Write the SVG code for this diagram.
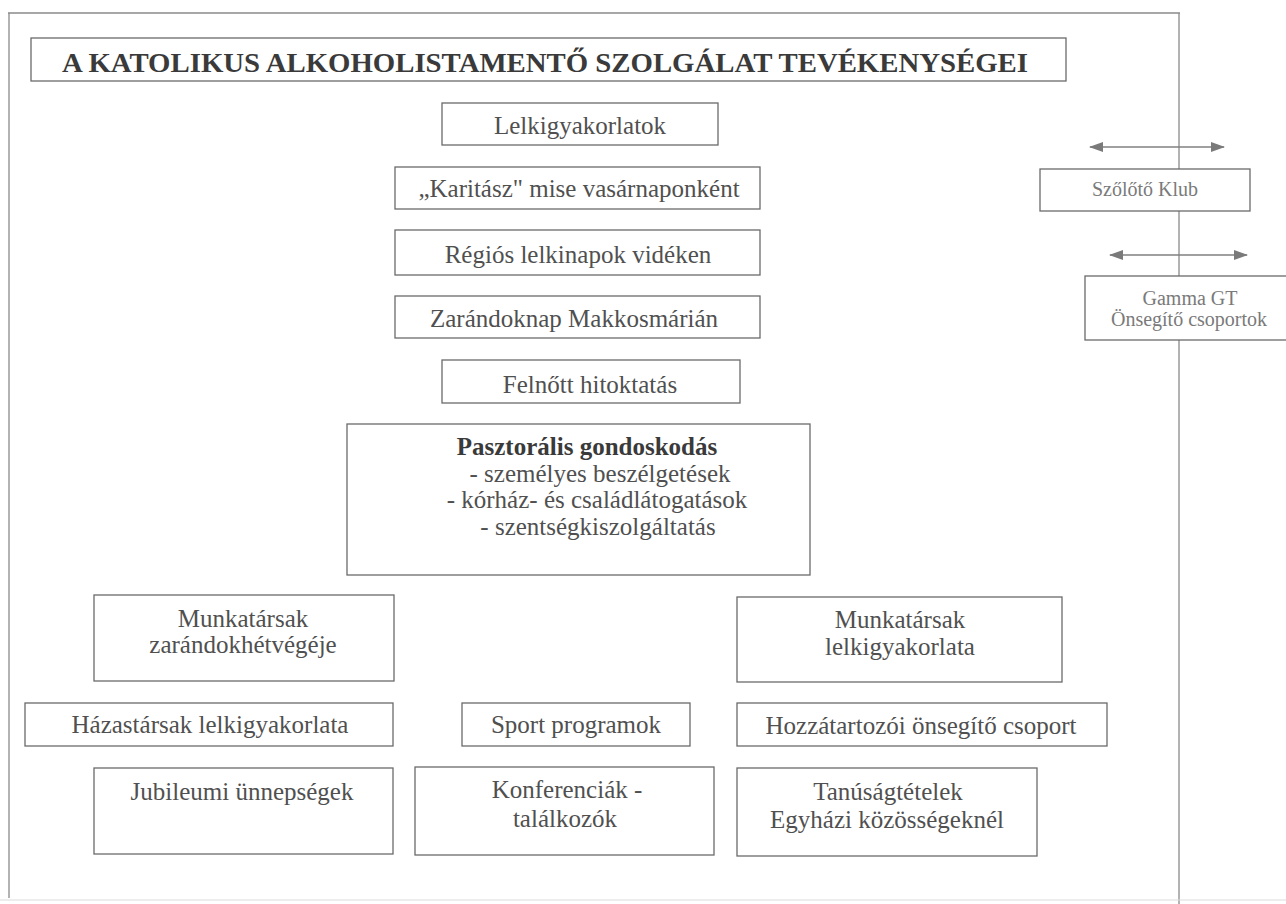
<svg xmlns="http://www.w3.org/2000/svg" width="1286" height="904" viewBox="0 0 1286 904">
<style>
  .bx{fill:#fff;stroke:#6a6a6a;stroke-width:1.3}
  .t{font-family:"Liberation Serif","Times New Roman",serif;font-size:25px;fill:#505050;text-anchor:middle}
  .tb{font-weight:bold;fill:#3a3a3a}
  .ts{font-family:"Liberation Serif","Times New Roman",serif;font-size:20px;fill:#7a7a7a;text-anchor:middle}
  .fr{stroke:#8a8a8a;stroke-width:1.3;fill:none}
  .ar{stroke:#808080;stroke-width:1.6;fill:none}
</style>
<defs>
  <marker id="ah" viewBox="0 0 14 10" refX="13" refY="5" markerWidth="14" markerHeight="10" markerUnits="userSpaceOnUse" orient="auto-start-reverse">
    <path d="M0,0 L14,5 L0,10 z" fill="#7a7a7a"/>
  </marker>
</defs>
<rect width="1286" height="904" fill="#fff"/>
<g id="frame">
  <line class="fr" x1="8" y1="13" x2="1180" y2="13"/>
  <line class="fr" x1="9" y1="13" x2="9" y2="898"/>
  <line class="fr" x1="1179" y1="13" x2="1179" y2="904"/>
  <line x1="0" y1="900" x2="1286" y2="900" stroke="#dcdcdc" stroke-width="1.2"/>
</g>
<g id="connectors">
  <line class="ar" x1="1090" y1="147" x2="1224" y2="147" marker-start="url(#ah)" marker-end="url(#ah)"/>
  <line class="ar" x1="1110" y1="255" x2="1247" y2="255" marker-start="url(#ah)" marker-end="url(#ah)"/>
</g>
<g id="title">
  <rect class="bx" x="31" y="38" width="1035" height="43"/>
  <text class="t tb" x="545" y="72" style="font-size:27.5px" textLength="966" lengthAdjust="spacingAndGlyphs">A KATOLIKUS ALKOHOLISTAMENTŐ SZOLGÁLAT TEVÉKENYSÉGEI</text>
</g>
<g id="lelkigyakorlatok">
  <rect class="bx" x="442" y="103" width="276" height="42"/>
  <text class="t" x="580" y="134">Lelkigyakorlatok</text>
</g>
<g id="karitasz">
  <rect class="bx" x="395" y="167" width="365" height="42"/>
  <text class="t" x="579" y="197">„Karitász" mise vasárnaponként</text>
</g>
<g id="regios">
  <rect class="bx" x="395" y="230" width="365" height="45"/>
  <text class="t" x="578" y="263">Régiós lelkinapok vidéken</text>
</g>
<g id="zarandoknap">
  <rect class="bx" x="395" y="296" width="365" height="42"/>
  <text class="t" x="574" y="327">Zarándoknap Makkosmárián</text>
</g>
<g id="felnott">
  <rect class="bx" x="442" y="360" width="298" height="43"/>
  <text class="t" x="590" y="393">Felnőtt hitoktatás</text>
</g>
<g id="pasztoralis">
  <rect class="bx" x="347" y="424" width="463" height="151"/>
  <text class="t tb" x="587" y="455">Pasztorális gondoskodás</text>
  <text class="t" x="600" y="482">- személyes beszélgetések</text>
  <text class="t" x="597" y="508">- kórház- és családlátogatások</text>
  <text class="t" x="598" y="535">- szentségkiszolgáltatás</text>
</g>
<g id="szoloto">
  <rect class="bx" x="1040" y="169" width="210" height="42"/>
  <text class="ts" x="1145" y="196">Szőlőtő Klub</text>
</g>
<g id="gamma">
  <rect class="bx" x="1085" y="276" width="210" height="64"/>
  <text class="ts" x="1190" y="305">Gamma GT</text>
  <text class="ts" x="1189" y="326">Önsegítő csoportok</text>
</g>
<g id="munk-zarandok">
  <rect class="bx" x="94" y="595" width="300" height="86"/>
  <text class="t" x="243" y="627">Munkatársak</text>
  <text class="t" x="243" y="653">zarándokhétvégéje</text>
</g>
<g id="munk-lelki">
  <rect class="bx" x="737" y="597" width="325" height="85"/>
  <text class="t" x="900" y="628">Munkatársak</text>
  <text class="t" x="900" y="655">lelkigyakorlata</text>
</g>
<g id="hazastarsak">
  <rect class="bx" x="25" y="703" width="368" height="43"/>
  <text class="t" x="210" y="733">Házastársak lelkigyakorlata</text>
</g>
<g id="sport">
  <rect class="bx" x="462" y="703" width="228" height="43"/>
  <text class="t" x="576" y="733">Sport programok</text>
</g>
<g id="hozzatartozoi">
  <rect class="bx" x="737" y="703" width="370" height="43"/>
  <text class="t" x="921" y="734">Hozzátartozói önsegítő csoport</text>
</g>
<g id="jubileumi">
  <rect class="bx" x="94" y="768" width="299" height="86"/>
  <text class="t" x="242" y="800">Jubileumi ünnepségek</text>
</g>
<g id="konferenciak">
  <rect class="bx" x="415" y="767" width="299" height="88"/>
  <text class="t" x="567" y="798">Konferenciák -</text>
  <text class="t" x="565" y="827">találkozók</text>
</g>
<g id="tanusag">
  <rect class="bx" x="737" y="768" width="300" height="88"/>
  <text class="t" x="888" y="800">Tanúságtételek</text>
  <text class="t" x="887" y="828">Egyházi közösségeknél</text>
</g>
</svg>
